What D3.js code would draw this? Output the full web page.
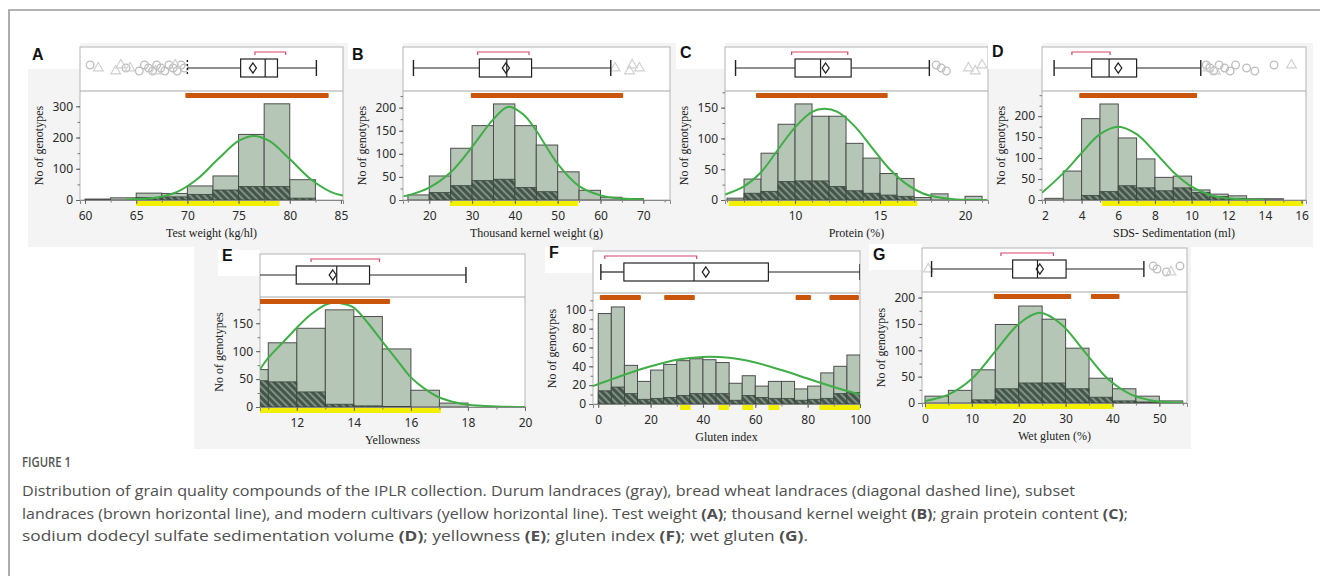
<!DOCTYPE html>
<html>
<head>
<meta charset="UTF-8">
<title>Figure 1</title>
<script src="https://d3js.org/d3.v7.min.js"></script>
<style>
body { margin: 0; background: #fff; }
</style>
</head>
<body>
<script>
// ---- A: test weight ----
var twBins = [60, 62.5, 65, 67.5, 70, 72.5, 75, 77.5, 80];
var twDurum = [3, 7, 22, 21, 45, 77, 210, 308, 65];
var twBread = [0, 0, 8, 10, 18, 32, 43, 43, 6];
var twCurveX = [64, 67, 69, 71, 73, 75, 76.5, 78, 80, 82, 84, 85.2];
var twCurveY = [1, 8, 26, 68, 131, 189, 205, 189, 131, 68, 26, 14];
var twBox = [70, 75.2, 77.6, 78.8, 82.6];
var twMean = 76.4;
var twShort = [76.6, 79.6];
var twCircles = [60.5, 64.0, 65.3, 65.8, 66.2, 66.6, 67.0, 67.4, 67.8, 68.2, 68.6, 69.0, 69.4, 69.7];
var twTriangles = [61.3, 63.0, 63.5, 64.4, 66.9, 68.8];
var twSubset = [[69.8, 83.8]];
var twModern = [[65, 79]];

// ---- B: thousand kernel weight ----
var tkwBins = [15, 20, 25, 30, 35, 40, 45, 50, 55, 60, 65];
var tkwDurum = [11, 52, 112, 161, 208, 161, 119, 61, 21, 6, 3];
var tkwBread = [0, 16, 31, 42, 45, 27, 18, 0, 0, 0, 0];
var tkwCurveX = [14, 15, 20, 25, 30, 35, 38.5, 42, 45, 50, 55, 60, 65, 70];
var tkwCurveY = [8, 10, 27, 60, 115, 175, 202, 185, 150, 78, 30, 10, 3, 1];
var tkwBox = [16.3, 31.7, 38.1, 43.9, 62.4];
var tkwMean = 37.9;
var tkwShort = [31.3, 43.3];
var tkwCircles = [];
var tkwTriangles = [63.4, 66.8, 67.4, 69.1];
var tkwSubset = [[29.7, 65.3]];
var tkwModern = [[24.8, 54.8]];

// ---- C: protein ----
var prBins = [6, 7, 8, 9, 10, 11, 12, 13, 14, 15, 16, 17, 18, 19, 20];
var prDurum = [3, 34, 76, 123, 156, 136, 136, 92, 68, 43, 35, 4, 10, 0, 6];
var prBread = [0, 11, 14, 30, 31, 31, 22, 15, 11, 8, 6, 0, 0, 0, 0];
var prCurveX = [5.9, 7, 8, 9, 10, 11, 11.7, 12.5, 13.5, 14.5, 15.5, 16.5, 17.5, 18.5, 19.5, 21.3];
var prCurveY = [9, 22, 45, 82, 118, 143, 148, 143, 120, 86, 52, 27, 11, 4, 1, 0];
var prBox = [6.5, 10.0, 11.5, 13.3, 17.9];
var prMean = 11.8;
var prShort = [9.8, 13.1];
var prCircles = [18.3, 18.6, 18.9];
var prTriangles = [20.2, 20.6, 21.0];
var prSubset = [[7.7, 15.45]];
var prModern = [[6.1, 17.2]];

// ---- D: SDS sedimentation ----
var sdsBins = [2, 3, 4, 5, 6, 7, 8, 9, 10, 11, 12, 13, 14];
var sdsDurum = [4, 69, 194, 229, 148, 98, 54, 57, 24, 14, 10, 3, 3];
var sdsBread = [0, 0, 11, 20, 34, 29, 22, 29, 18, 8, 4, 0, 0];
var sdsCurveX = [1.84, 3, 4, 5, 6, 7, 8, 9, 10, 11, 12, 13, 14];
var sdsCurveY = [17, 64, 112, 157, 175, 157, 114, 67, 32, 12, 4, 1, 0];
var sdsBox = [2.5, 4.55, 5.5, 7.0, 10.5];
var sdsMean = 6.0;
var sdsShort = [3.47, 5.55];
var sdsCircles = [10.8, 11.0, 11.2, 11.5, 11.8, 12.1, 12.4, 13.0, 13.45, 14.5];
var sdsTriangles = [10.9, 11.3, 15.45];
var sdsSubset = [[3.87, 10.3]];
var sdsModern = [[5.1, 16.1]];

// ---- E: yellowness ----
var yeBins = [10, 11, 12, 13, 14, 15, 16, 17];
var yeDurum = [67, 115, 141, 174, 162, 104, 30, 7];
var yeBread = [47, 45, 27, 5, 2, 1, 0, 0];
var yeCurveX = [10.7, 11, 11.5, 12, 12.5, 13, 13.3, 13.7, 14, 14.5, 15, 15.5, 16, 16.5, 17, 17.5, 18, 19, 20];
var yeCurveY = [67, 88, 115, 142, 166, 183, 187, 184, 178, 150, 117, 85, 53, 32, 17, 9, 4, 1, 0];
var yeBox = [10.5, 11.98, 13.4, 14.55, 17.93];
var yeMean = 13.26;
var yeShort = [12.5, 14.9];
var yeCircles = [];
var yeTriangles = [];
var yeSubset = [[10.5, 15.27]];
var yeModern = [[10.5, 17.05]];

// ---- F: gluten index ----
var giBins = [0, 5, 10, 15, 20, 25, 30, 35, 40, 45, 50, 55, 60, 65, 70, 75, 80, 85, 90, 95];
var giDurum = [96, 103, 41, 24, 36, 42, 46, 48, 47, 44, 22, 30, 19, 24, 24, 16, 19, 33, 40, 52];
var giBread = [14, 18, 11, 5, 6, 7, 9, 11, 11, 11, 4, 9, 7, 6, 6, 4, 5, 6, 11, 12];
var giCurveX = [-2, 0, 10, 20, 30, 40, 50, 60, 70, 80, 90, 100];
var giCurveY = [19, 21, 31, 40, 47, 50, 49, 44, 36, 27, 18, 10];
var giBox = [1.0, 9.8, 36.6, 65, 100];
var giMean = 41.1;
var giShort = [2.5, 37.6];
var giCircles = [];
var giTriangles = [];
var giSubset = [[0.6, 16.3], [25.2, 36.9], [75.4, 81.3], [88.3, 99.6]];
var giModern = [[31.2, 35.3], [45.9, 49.9], [55, 59.2], [65, 69.2], [84.5, 100]];

// ---- G: wet gluten ----
var wgBins = [0, 5, 10, 15, 20, 25, 30, 35, 40, 45, 50];
var wgDurum = [13, 24, 63, 149, 184, 159, 104, 47, 27, 13, 4];
var wgBread = [0, 0, 6, 27, 38, 38, 27, 11, 4, 2, 0];
var wgCurveX = [0, 5, 10, 15, 20, 24.5, 29, 34, 39, 44, 49, 55];
var wgCurveY = [4, 16, 46, 98, 150, 171, 150, 98, 46, 16, 4, 1];
var wgBox = [1.4, 18.7, 24.0, 30.1, 46.7];
var wgMean = 24.5;
var wgShort = [16.2, 27.4];
var wgCircles = [48.7, 49.5, 51.5, 54.4];
var wgTriangles = [0.7, 52.5];
var wgSubset = [[14.7, 31.2], [35.4, 41.5]];
var wgModern = [[0, 40.2]];

var panels = [
  {id: "A", bins: twBins, bw: 2.5, durum: twDurum, bread: twBread, cx: twCurveX, cy: twCurveY,
   box: twBox, mean: twMean, short: twShort, circles: twCircles, triangles: twTriangles,
   subset: twSubset, modern: twModern, title: "Test weight (kg/hl)",
   x0: 80, x1: 343, top: 47, div: 91, base: 200, xDom: [59.51, 85.2], yMax: 349,
   xTicks: [60, 65, 70, 75, 80, 85], xMinor: 2.5, yTicks: [0, 100, 200, 300], yMinor: 50, lx: 32, ly: 60, dashCap: true},
  {id: "B", bins: tkwBins, bw: 5, durum: tkwDurum, bread: tkwBread, cx: tkwCurveX, cy: tkwCurveY,
   box: tkwBox, mean: tkwMean, short: tkwShort, circles: tkwCircles, triangles: tkwTriangles,
   subset: tkwSubset, modern: tkwModern, title: "Thousand kernel weight (g)",
   x0: 403, x1: 670, top: 47, div: 91, base: 200, xDom: [13.86, 76.24], yMax: 236,
   xTicks: [20, 30, 40, 50, 60, 70], xMinor: 5, yTicks: [0, 50, 100, 150, 200], yMinor: 25, lx: 352, ly: 60},
  {id: "C", bins: prBins, bw: 1, durum: prDurum, bread: prBread, cx: prCurveX, cy: prCurveY,
   box: prBox, mean: prMean, short: prShort, circles: prCircles, triangles: prTriangles,
   subset: prSubset, modern: prModern, title: "Protein (%)",
   x0: 725, x1: 988, top: 47, div: 91, base: 200, xDom: [5.88, 21.35], yMax: 177,
   xTicks: [10, 15, 20], xMinor: 1, yTicks: [0, 50, 100, 150], yMinor: 25, lx: 680, ly: 58},
  {id: "D", bins: sdsBins, bw: 1, durum: sdsDurum, bread: sdsBread, cx: sdsCurveX, cy: sdsCurveY,
   box: sdsBox, mean: sdsMean, short: sdsShort, circles: sdsCircles, triangles: sdsTriangles,
   subset: sdsSubset, modern: sdsModern, title: "SDS- Sedimentation (ml)",
   x0: 1042, x1: 1306, top: 47, div: 91, base: 200, xDom: [1.84, 16.24], yMax: 260,
   xTicks: [2, 4, 6, 8, 10, 12, 14, 16], xMinor: 1, yTicks: [0, 50, 100, 150, 200], yMinor: 25, lx: 992, ly: 57},
  {id: "E", bins: yeBins, bw: 1, durum: yeDurum, bread: yeBread, cx: yeCurveX, cy: yeCurveY,
   box: yeBox, mean: yeMean, short: yeShort, circles: yeCircles, triangles: yeTriangles,
   subset: yeSubset, modern: yeModern, title: "Yellowness",
   x0: 260, x1: 525, top: 254, div: 297, base: 407, xDom: [10.71, 20.0], yMax: 197,
   xTicks: [12, 14, 16, 18, 20], xMinor: 1, yTicks: [0, 50, 100, 150], yMinor: 25, lx: 222, ly: 261},
  {id: "F", bins: giBins, bw: 5, durum: giDurum, bread: giBread, cx: giCurveX, cy: giCurveY,
   box: giBox, mean: giMean, short: giShort, circles: giCircles, triangles: giTriangles,
   subset: giSubset, modern: giModern, title: "Gluten index",
   x0: 593, x1: 860, top: 251, div: 293, base: 404, xDom: [-2.0, 100.0], yMax: 117.8,
   xTicks: [0, 20, 40, 60, 80, 100], xMinor: 10, yTicks: [0, 20, 40, 60, 80, 100], yMinor: 10, lx: 549, ly: 258},
  {id: "G", bins: wgBins, bw: 5, durum: wgDurum, bread: wgBread, cx: wgCurveX, cy: wgCurveY,
   box: wgBox, mean: wgMean, short: wgShort, circles: wgCircles, triangles: wgTriangles,
   subset: wgSubset, modern: wgModern, title: "Wet gluten (%)",
   x0: 922, x1: 1187, top: 248, div: 292, base: 403, xDom: [-0.64, 55.9], yMax: 210.6,
   xTicks: [0, 10, 20, 30, 40, 50], xMinor: 5, yTicks: [0, 50, 100, 150, 200], yMinor: 25, lx: 873, ly: 260}
];

var captionLines = [
  [["Distribution of grain quality compounds of the IPLR collection. Durum landraces (gray), bread wheat landraces (diagonal dashed line), subset", 0]],
  [["landraces (brown horizontal line), and modern cultivars (yellow horizontal line). Test weight ", 0], ["(A)", 1],
   ["; thousand kernel weight ", 0], ["(B)", 1], ["; grain protein content ", 0], ["(C)", 1], [";", 0]],
  [["sodium dodecyl sulfate sedimentation volume ", 0], ["(D)", 1], ["; yellowness ", 0], ["(E)", 1],
   ["; gluten index ", 0], ["(F)", 1], ["; wet gluten ", 0], ["(G)", 1], [".", 0]]
];
var captionWidths = [1053, 1106, 786];

var W = 1320, H = 576;
var svg = d3.select("body").append("svg")
    .attr("width", W).attr("height", H)
    .style("display", "block");

// page frame
svg.append("path")
    .attr("d", "M9," + H + "V10H" + W)
    .attr("fill", "none").attr("stroke", "#9a9a9a").attr("stroke-width", 1.6);

// figure image backgrounds
svg.append("rect").attr("x", 28).attr("y", 43).attr("width", 1285).attr("height", 204).attr("fill", "#f4f4f4");
svg.append("rect").attr("x", 194).attr("y", 246).attr("width", 997).attr("height", 203).attr("fill", "#f4f4f4");

var defs = svg.append("defs");
var pat = defs.append("pattern")
    .attr("id", "hatch")
    .attr("patternUnits", "userSpaceOnUse")
    .attr("width", 5).attr("height", 5)
    .attr("patternTransform", "rotate(-45)");
pat.append("rect").attr("width", 5).attr("height", 5).attr("fill", "#44554a");
pat.append("rect").attr("x", 0).attr("width", 2).attr("height", 5).attr("fill", "#7f8f84");

var tickFont = "'Noto Sans', 'DejaVu Sans', sans-serif";
var serifFont = "'Liberation Serif', 'DejaVu Serif', serif";

panels.forEach(function(p) {
    var g = svg.append("g");
    var x = d3.scaleLinear().domain(p.xDom).range([p.x0, p.x1]);
    var y = d3.scaleLinear().domain([0, p.yMax]).range([p.base, p.div]);

    // white patch behind the panel letter
    g.append("rect").attr("x", p.lx - 4).attr("y", p.top - 4)
        .attr("width", p.x0 - p.lx + 4).attr("height", 26).attr("fill", "#fff");
    g.append("text").attr("x", p.lx).attr("y", p.ly)
        .attr("font-family", "'Liberation Sans', Arial, sans-serif")
        .attr("font-weight", "bold").attr("font-size", 16)
        .attr("fill", "#111").text(p.id);

    // plot frame
    g.append("rect").attr("x", p.x0).attr("y", p.top)
        .attr("width", p.x1 - p.x0).attr("height", p.base - p.top)
        .attr("fill", "#fff").attr("stroke", "#b4b4b4").attr("stroke-width", 1);
    g.append("line").attr("x1", p.x0).attr("x2", p.x1).attr("y1", p.div).attr("y2", p.div)
        .attr("stroke", "#a8a8a8").attr("stroke-width", 1.2);

    var clipId = "clip" + p.id;
    defs.append("clipPath").attr("id", clipId).append("rect")
        .attr("x", p.x0).attr("y", p.div).attr("width", p.x1 - p.x0).attr("height", p.base - p.div);
    var clipBox = "clipbox" + p.id;
    defs.append("clipPath").attr("id", clipBox).append("rect")
        .attr("x", p.x0).attr("y", p.top).attr("width", p.x1 - p.x0).attr("height", p.div - p.top);
    var clipX = "clipx" + p.id;
    defs.append("clipPath").attr("id", clipX).append("rect")
        .attr("x", p.x0).attr("y", p.top).attr("width", p.x1 - p.x0).attr("height", p.base - p.top + 12);

    var hist = g.append("g").attr("clip-path", "url(#" + clipId + ")");
    hist.selectAll("rect.durum").data(p.bins).enter().append("rect")
        .attr("class", "durum")
        .attr("x", function(d) { return x(d); })
        .attr("width", function(d) { return x(d + p.bw) - x(d); })
        .attr("y", function(d, i) { return y(p.durum[i]); })
        .attr("height", function(d, i) { return p.base - y(p.durum[i]); })
        .attr("fill", "#b6c6b6").attr("stroke", "#4d4d4d").attr("stroke-width", 1);
    hist.selectAll("rect.bread").data(p.bins).enter().append("rect")
        .attr("class", "bread")
        .attr("x", function(d) { return x(d); })
        .attr("width", function(d) { return x(d + p.bw) - x(d); })
        .attr("y", function(d, i) { return y(p.bread[i]); })
        .attr("height", function(d, i) { return p.base - y(p.bread[i]); })
        .attr("fill", "url(#hatch)").attr("stroke", "#3b473e").attr("stroke-width", 0.8);

    var line = d3.line()
        .x(function(d, i) { return x(p.cx[i]); })
        .y(function(d) { return y(d); })
        .curve(d3.curveCatmullRom.alpha(0.5));
    hist.append("path").datum(p.cy).attr("d", line)
        .attr("fill", "none").attr("stroke", "#3fae46").attr("stroke-width", 2);

    // subset landraces (brown) and modern cultivars (yellow)
    var seg = g.append("g").attr("clip-path", "url(#" + clipX + ")");
    seg.selectAll("rect.sub").data(p.subset).enter().append("rect")
        .attr("x", function(d) { return x(d[0]); })
        .attr("width", function(d) { return x(d[1]) - x(d[0]); })
        .attr("y", p.div + 2).attr("height", 5).attr("rx", 1)
        .attr("fill", "#c9560b");
    seg.selectAll("rect.mod").data(p.modern).enter().append("rect")
        .attr("x", function(d) { return x(d[0]); })
        .attr("width", function(d) { return x(d[1]) - x(d[0]); })
        .attr("y", p.base + 1).attr("height", 5)
        .attr("fill", "#f2f000");

    // axes
    var xAxis = d3.axisBottom(x).tickValues(p.xTicks).tickSize(4).tickPadding(7);
    var minorX = d3.range(Math.ceil(p.xDom[0] / p.xMinor) * p.xMinor, p.xDom[1] + 1e-9, p.xMinor);
    var gxm = g.append("g").attr("transform", "translate(0," + p.base + ")")
        .call(d3.axisBottom(x).tickValues(minorX).tickSize(2.5).tickFormat(""));
    gxm.select(".domain").remove();
    gxm.selectAll("line").attr("stroke", "#777");
    var gx = g.append("g").attr("transform", "translate(0," + p.base + ")").call(xAxis);
    gx.select(".domain").attr("stroke", "#888");
    gx.selectAll("line").attr("stroke", "#666");
    gx.selectAll("text").attr("font-family", tickFont).attr("font-size", 12).attr("fill", "#2a2a2a");

    var minorY = d3.range(0, p.yMax, p.yMinor);
    var gym = g.append("g").attr("transform", "translate(" + p.x0 + ",0)")
        .call(d3.axisLeft(y).tickValues(minorY).tickSize(2.5).tickFormat(""));
    gym.select(".domain").remove();
    gym.selectAll("line").attr("stroke", "#777");
    var gy = g.append("g").attr("transform", "translate(" + p.x0 + ",0)")
        .call(d3.axisLeft(y).tickValues(p.yTicks).tickSize(4).tickPadding(3));
    gy.select(".domain").remove();
    gy.selectAll("line").attr("stroke", "#666");
    gy.selectAll("text").attr("font-family", tickFont).attr("font-size", 12).attr("fill", "#2a2a2a");

    g.append("text")
        .attr("x", (p.x0 + p.x1) / 2).attr("y", p.base + 37)
        .attr("text-anchor", "middle")
        .attr("font-family", serifFont).attr("font-size", 12).attr("fill", "#222")
        .text(p.title);
    g.append("text")
        .attr("transform", "translate(" + (p.x0 - 37) + "," + ((p.div + p.base) / 2) + ") rotate(-90)")
        .attr("text-anchor", "middle")
        .attr("font-family", serifFont).attr("font-size", 12).attr("fill", "#222")
        .text("No of genotypes");

    // box plot
    var bp = g.append("g").attr("clip-path", "url(#" + clipBox + ")");
    var cy = p.top + 21;
    var oy = function(i) { return cy + ((i % 3) - 1) * 3; };
    bp.selectAll("circle").data(p.circles).enter().append("circle")
        .attr("cx", function(d) { return x(d); })
        .attr("cy", function(d, i) { return oy(i); })
        .attr("r", 3.8).attr("fill", "none").attr("stroke", "#bdbdbd").attr("stroke-width", 1.3);
    bp.selectAll("path.tri").data(p.triangles).enter().append("path")
        .attr("class", "tri")
        .attr("transform", function(d, i) { return "translate(" + x(d) + "," + oy(i + 1) + ")"; })
        .attr("d", d3.symbol().type(d3.symbolTriangle).size(40))
        .attr("fill", "none").attr("stroke", "#d0d0d0").attr("stroke-width", 1.2);

    var b = p.box;
    bp.append("line").attr("x1", x(b[0])).attr("x2", x(b[1])).attr("y1", cy).attr("y2", cy)
        .attr("stroke", "#222").attr("stroke-width", 1.2);
    bp.append("line").attr("x1", x(b[3])).attr("x2", x(b[4])).attr("y1", cy).attr("y2", cy)
        .attr("stroke", "#222").attr("stroke-width", 1.2);
    [b[0], b[4]].forEach(function(v, k) {
        bp.append("line").attr("x1", x(v)).attr("x2", x(v)).attr("y1", cy - 8).attr("y2", cy + 8)
            .attr("stroke", "#222").attr("stroke-width", 1.4)
            .attr("stroke-dasharray", (p.dashCap && k === 0) ? "2,2" : null);
    });
    bp.append("rect").attr("x", x(b[1])).attr("y", cy - 9)
        .attr("width", x(b[3]) - x(b[1])).attr("height", 18)
        .attr("fill", "#fff").attr("stroke", "#222").attr("stroke-width", 1.2);
    bp.append("line").attr("x1", x(b[2])).attr("x2", x(b[2])).attr("y1", cy - 9).attr("y2", cy + 9)
        .attr("stroke", "#222").attr("stroke-width", 1.2);
    var mx = x(p.mean);
    bp.append("path")
        .attr("d", "M" + mx + "," + (cy - 5) + "L" + (mx + 3.5) + "," + cy + "L" + mx + "," + (cy + 5) + "L" + (mx - 3.5) + "," + cy + "Z")
        .attr("fill", "none").attr("stroke", "#222").attr("stroke-width", 1.3);
    var by = p.top + 5;
    bp.append("path")
        .attr("d", "M" + x(p.short[0]) + "," + (by + 3) + "V" + by + "H" + x(p.short[1]) + "V" + (by + 3))
        .attr("fill", "none").attr("stroke", "#d2476a").attr("stroke-width", 1.2);
});

// caption
svg.append("text").attr("x", 22).attr("y", 467)
    .attr("font-family", "'Open Sans', Lato, sans-serif").attr("font-size", 13.5)
    .attr("font-weight", 600).attr("fill", "#555")
    .attr("textLength", 49).attr("lengthAdjust", "spacingAndGlyphs")
    .text("FIGURE 1");
captionLines.forEach(function(parts, i) {
    var t = svg.append("text").attr("x", 22).attr("y", 496 + i * 22.5)
        .attr("font-family", "'Open Sans', Lato, sans-serif").attr("font-size", 14.5)
        .attr("fill", "#4f4f4f")
        .attr("textLength", captionWidths[i]).attr("lengthAdjust", "spacingAndGlyphs");
    parts.forEach(function(s) {
        t.append("tspan").attr("font-weight", s[1] ? "bold" : null).text(s[0]);
    });
});
</script>
</body>
</html>
